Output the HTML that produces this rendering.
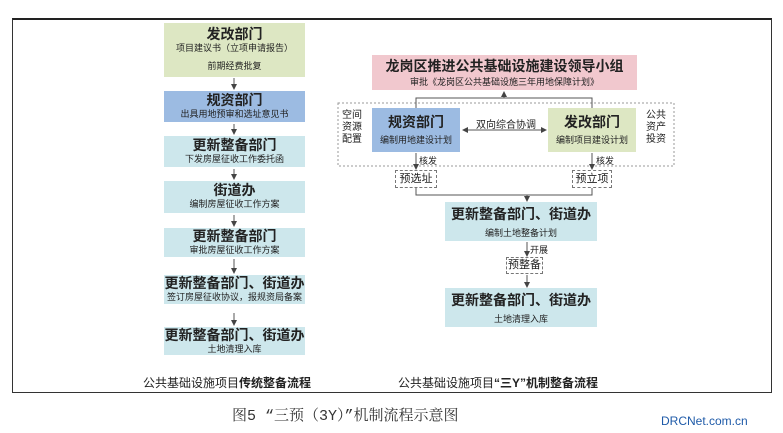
<!DOCTYPE html>
<html><head><meta charset="utf-8"><style>
body{margin:0;width:783px;height:433px;background:#fff;position:relative;overflow:hidden;font-family:"Liberation Sans","Noto Sans CJK SC",sans-serif;color:#222}
.b{position:absolute;text-align:center;box-sizing:border-box}
.t{font-weight:bold;font-size:14px;line-height:16px}
.s{font-size:9px;line-height:12px}
.g{background:#dde7c3}.bl{background:#9cbbe2}.c{background:#cde7ec}.p{background:#f1c8ce}
.d{position:absolute;border:1px dashed #777;font-size:11px;text-align:center;box-sizing:border-box;background:#fff}
.l{position:absolute;font-size:9px}
</style></head><body>
<div style="position:absolute;left:12px;top:18px;width:760px;height:375px;border:1px solid #333;border-top:2px solid #222;box-sizing:border-box"></div>
<svg width="783" height="433" style="position:absolute;left:0;top:0">
<defs><marker id="a" markerWidth="6" markerHeight="6" refX="5" refY="3" orient="auto"><path d="M0,0L6,3L0,6z" fill="#444"/></marker>
<marker id="s" markerWidth="6" markerHeight="6" refX="5" refY="3" orient="auto-start-reverse"><path d="M0,0L6,3L0,6z" fill="#444"/></marker></defs>
<g stroke="#555" stroke-width="1" fill="none">
<line x1="234" y1="78" x2="234" y2="89" marker-end="url(#a)"/>
<line x1="234" y1="124" x2="234" y2="134" marker-end="url(#a)"/>
<line x1="234" y1="169" x2="234" y2="179" marker-end="url(#a)"/>
<line x1="234" y1="215" x2="234" y2="226" marker-end="url(#a)"/>
<line x1="234" y1="259" x2="234" y2="273" marker-end="url(#a)"/>
<line x1="234" y1="313" x2="234" y2="325" marker-end="url(#a)"/>
<rect x="338" y="103" width="336" height="63" stroke="#999" stroke-dasharray="2,2"/>
<polyline points="416,108 416,98 592,98 592,108"/>
<line x1="504" y1="98" x2="504" y2="92" marker-end="url(#a)"/>
<line x1="463" y1="130" x2="546" y2="130" marker-start="url(#s)" marker-end="url(#s)"/>
<line x1="416" y1="153" x2="416" y2="169" marker-end="url(#a)"/>
<line x1="592" y1="153" x2="592" y2="169" marker-end="url(#a)"/>
<polyline points="416,188 416,195 592,195 592,188"/>
<line x1="527" y1="195" x2="527" y2="201" marker-end="url(#a)"/>
<line x1="527" y1="242" x2="527" y2="256" marker-end="url(#a)"/>
<line x1="527" y1="275" x2="527" y2="287" marker-end="url(#a)"/>
</g></svg>
<div class="b g" style="left:164px;top:23px;width:141px;height:54px;padding-top:3px"><div class="t">发改部门</div><div class="s">项目建议书（立项申请报告）</div><div class="s" style="margin-top:6px">前期经费批复</div></div>
<div class="b bl" style="left:164px;top:91px;width:141px;height:31px;padding-top:1px"><div class="t">规资部门</div><div class="s">出具用地预审和选址意见书</div></div>
<div class="b c" style="left:164px;top:136px;width:141px;height:31px;padding-top:1px"><div class="t">更新整备部门</div><div class="s">下发房屋征收工作委托函</div></div>
<div class="b c" style="left:164px;top:181px;width:141px;height:32px;padding-top:1px"><div class="t">街道办</div><div class="s">编制房屋征收工作方案</div></div>
<div class="b c" style="left:164px;top:228px;width:141px;height:29px;padding-top:0px"><div class="t">更新整备部门</div><div class="s">审批房屋征收工作方案</div></div>
<div class="b c" style="left:164px;top:275px;width:141px;height:29px"><div class="t">更新整备部门、街道办</div><div class="s">签订房屋征收协议，报规资局备案</div></div>
<div class="b c" style="left:164px;top:327px;width:141px;height:28px"><div class="t">更新整备部门、街道办</div><div class="s">土地清理入库</div></div>
<div class="b p" style="left:372px;top:55px;width:265px;height:35px;padding-top:3px"><div class="t" style="font-size:14px">龙岗区推进公共基础设施建设领导小组</div><div class="s" style="margin-top:2px">审批《龙岗区公共基础设施三年用地保障计划》</div></div>
<div class="l" style="left:342px;top:110px;font-size:10px;line-height:12px">空间<br>资源<br>配置</div>
<div class="l" style="left:646px;top:110px;font-size:10px;line-height:12px">公共<br>资产<br>投资</div>
<div class="b bl" style="left:372px;top:108px;width:88px;height:44px;padding-top:6px"><div class="t">规资部门</div><div class="s" style="margin-top:4px">编制用地建设计划</div></div>
<div class="b g" style="left:548px;top:108px;width:88px;height:44px;padding-top:6px"><div class="t">发改部门</div><div class="s" style="margin-top:4px">编制项目建设计划</div></div>
<div class="l" style="left:476px;top:116px;font-size:10px">双向综合协调</div>
<div class="l" style="left:419px;top:154px">核发</div>
<div class="l" style="left:596px;top:154px">核发</div>
<div class="d" style="left:395px;top:170px;width:42px;height:18px;line-height:16px">预选址</div>
<div class="d" style="left:572px;top:170px;width:40px;height:18px;line-height:16px">预立项</div>
<div class="b c" style="left:445px;top:202px;width:152px;height:39px;padding-top:4px"><div class="t">更新整备部门、街道办</div><div class="s" style="margin-top:5px">编制土地整备计划</div></div>
<div class="l" style="left:530px;top:243px">开展</div>
<div class="d" style="left:506px;top:257px;width:37px;height:17px;line-height:15px">预整备</div>
<div class="b c" style="left:445px;top:288px;width:152px;height:39px;padding-top:4px"><div class="t">更新整备部门、街道办</div><div class="s" style="margin-top:5px">土地清理入库</div></div>
<div class="l" style="left:143px;top:374px;font-size:12px">公共基础设施项目<b>传统整备流程</b></div>
<div class="l" style="left:398px;top:374px;font-size:12px">公共基础设施项目<b>“三Y”机制整备流程</b></div>
<div class="l" style="left:232px;top:404px;font-size:15px;font-family:'Liberation Mono','Noto Serif CJK SC',serif;color:#333">图5 “三预（3Y）”机制流程示意图</div>
<div class="l" style="left:661px;top:414px;font-size:12px;color:#1e5aa8">DRCNet.com.cn</div>
</body></html>
